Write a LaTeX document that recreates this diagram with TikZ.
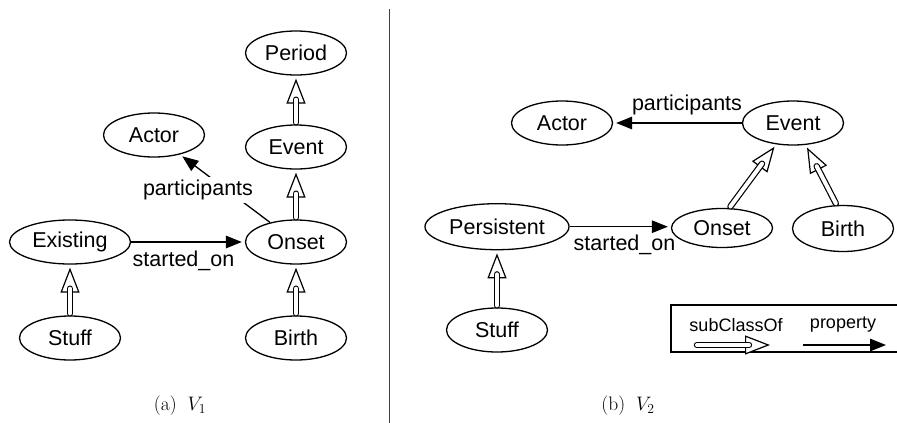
\RequirePackage{fix-cm}
\documentclass[tikz,border=0pt]{standalone}
\usepackage{fontspec}
\setsansfont{Liberation Sans}
\usetikzlibrary{arrows.meta,shapes.geometric}
\begin{document}
\begin{tikzpicture}[x=1pt,y=-1pt,
  cls/.style={ellipse, draw, line width=1.3pt, inner sep=0pt, minimum width=101pt, minimum height=44pt, font=\sffamily\fontsize{21.5}{24}\selectfont},
  lbl/.style={font=\sffamily\fontsize{21.5}{24}\selectfont, inner sep=1pt},
  leg/.style={font=\sffamily\fontsize{18}{21}\selectfont, inner sep=1pt},
  prop/.style={draw, line width=1.3pt, -{Triangle[length=16pt,width=12.5pt]}, shorten >=3pt},
  subcls/.style={draw, line width=1.2pt, -{Triangle[open,length=25pt,width=19pt,fill=white]}, shorten >=3pt,
     postaction={draw, -, double=white, double distance=4pt, line width=1.2pt, line cap=round, shorten >=24pt, shorten <=2pt}},
  caption/.style={font=\fontsize{19.5}{23}\selectfont, inner sep=1pt},
  sep/.style={draw=black!75, line width=1pt},
  legendbox/.style={draw, line width=1.3pt, minimum width=228pt, minimum height=47pt, inner sep=0pt},
]
\useasboundingbox (0,0) rectangle (897,423);

% ---------- panel (a)
\node[cls] (periodA) at (296,53) {Period};
\node[cls] (eventA) at (296,147) {Event};
\node[cls] (actorA) at (154,135) {Actor};
\node[cls, minimum width=121pt] (existingA) at (70,242) {Existing};
\node[cls] (onsetA) at (296,242) {Onset};
\node[cls] (stuffA) at (70,338) {Stuff};
\node[cls] (birthA) at (296,338) {Birth};

\draw[subcls] (eventA) -- (periodA);
\draw[subcls] (onsetA) -- (eventA);
\draw[subcls] (birthA) -- (onsetA);
\draw[subcls] (stuffA) -- (existingA);
\draw[prop] (existingA) -- (onsetA);
\node[lbl] (startedA) at (183.5,261) {started\_on};
\draw[prop] (onsetA) -- (actorA);
\node[lbl, fill=white, inner sep=3pt] (partA) at (198,190) {participants};

\node[caption] (capA) at (180,406) {(a)\hspace{11pt}$V_1$};

% ---------- separator
\coordinate (s1) at (389,9);
\coordinate (s2) at (389,423);
\draw[sep] (s1) -- (s2);

% ---------- panel (b)
\node[cls] (actorB) at (562,123) {Actor};
\node[cls] (eventB) at (793,123) {Event};
\node[cls, minimum width=144pt, minimum height=46pt] (persB) at (497,226.7) {Persistent};
\node[cls, minimum height=39pt] (onsetB) at (722,228) {Onset};
\node[cls, minimum height=46pt] (birthB) at (843,228.5) {Birth};
\node[cls] (stuffB) at (497,330) {Stuff};

\draw[prop] (eventB) -- (actorB);
\node[lbl] (partB) at (687,105) {participants};
\draw[prop] (persB.east) -- (persB.east -| onsetB.west);
\node[lbl] (startedB) at (624.5,245) {started\_on};
\draw[subcls] (onsetB.70) -- (eventB.232);
\draw[subcls] (birthB.105) -- (eventB.300);
\draw[subcls] (stuffB) -- (persB);

% legend
\node[legendbox] (legend) at (785,328.5) {};
\node[leg] (legSub) at (736,325) {subClassOf};
\node[leg] (legProp) at (843,325) {property};
\coordinate (l1) at (695,345);
\coordinate (l2) at (773,345);
\draw[subcls] (l1) -- (l2);
\coordinate (p1) at (803,345);
\coordinate (p2) at (889,345);
\draw[prop] (p1) -- (p2);

\node[caption] (capB) at (628,406) {(b)\hspace{11pt}$V_2$};
\end{tikzpicture}
\end{document}
